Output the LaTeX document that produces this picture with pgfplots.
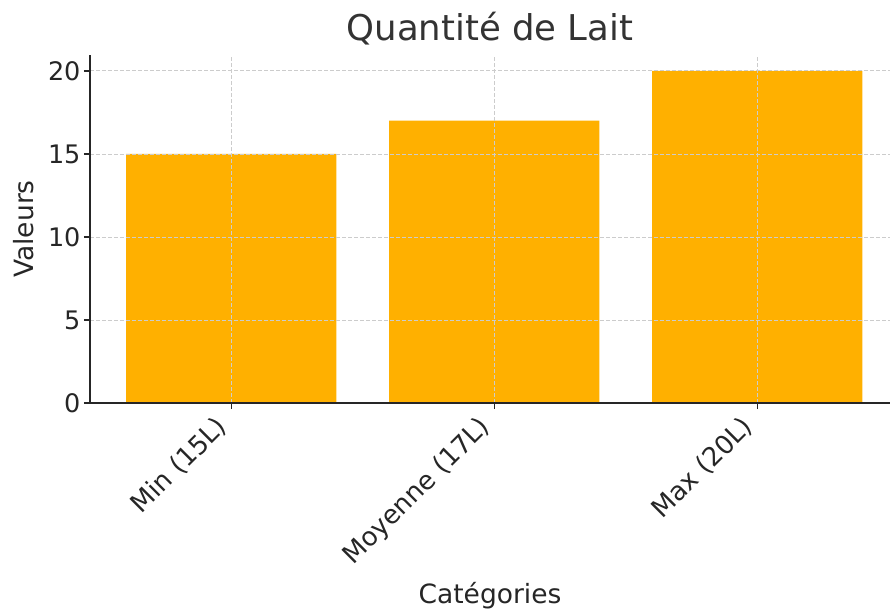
\documentclass[border=0pt]{standalone}
\usepackage{pgfplots}
\pgfplotsset{compat=1.18}
\usepackage{fontspec}
\setmainfont{DejaVu Sans}
\definecolor{barc}{HTML}{FFB000}
\definecolor{gridc}{HTML}{CCCCCC}
\definecolor{txt}{HTML}{262626}
\definecolor{ttl}{HTML}{333333}
\begin{document}
\begin{tikzpicture}
\begin{axis}[
 scale only axis, width=800pt, height=348pt,
 xmin=-0.537, xmax=2.505, ymin=0, ymax=20.96,
 axis x line*=bottom, axis y line*=left,
 axis line style={line width=1.4pt, color=txt, -},
 xtick={0,1,2}, xticklabels={Min (15L),Moyenne (17L),Max (20L)},
 x tick label style={xshift=-17pt, rotate=45, anchor=north east, font=\fontsize{26}{30}\selectfont, color=txt},
 ytick={0,5,...,20},
 y tick label style={font=\fontsize{25.5}{30}\selectfont, color=txt},
 /pgf/number format/assume math mode=true,
 tick align=outside, major tick length=6pt, tick style={line width=1.2pt, color=txt},
 grid=major, major grid style={dash pattern=on 4pt off 2pt, gridc, line width=0.9pt},
 axis on top,
 title={Quantité de Lait}, title style={font=\fontsize{35.5}{40}\selectfont, color=ttl},
 xlabel={Catégories}, ylabel={Valeurs},
 label style={font=\fontsize{26.5}{30}\selectfont, color=txt},
 ylabel shift=7pt, xlabel shift=5pt,
 ybar, bar width=0.8,
]
\addplot[fill=barc, draw=none] coordinates {(0,15) (1,17) (2,20)};
\end{axis}
\path ([shift={(-90pt,-205pt)}]current axis.south west) rectangle ([shift={(801pt,403pt)}]current axis.south west);
\end{tikzpicture}
\end{document}
